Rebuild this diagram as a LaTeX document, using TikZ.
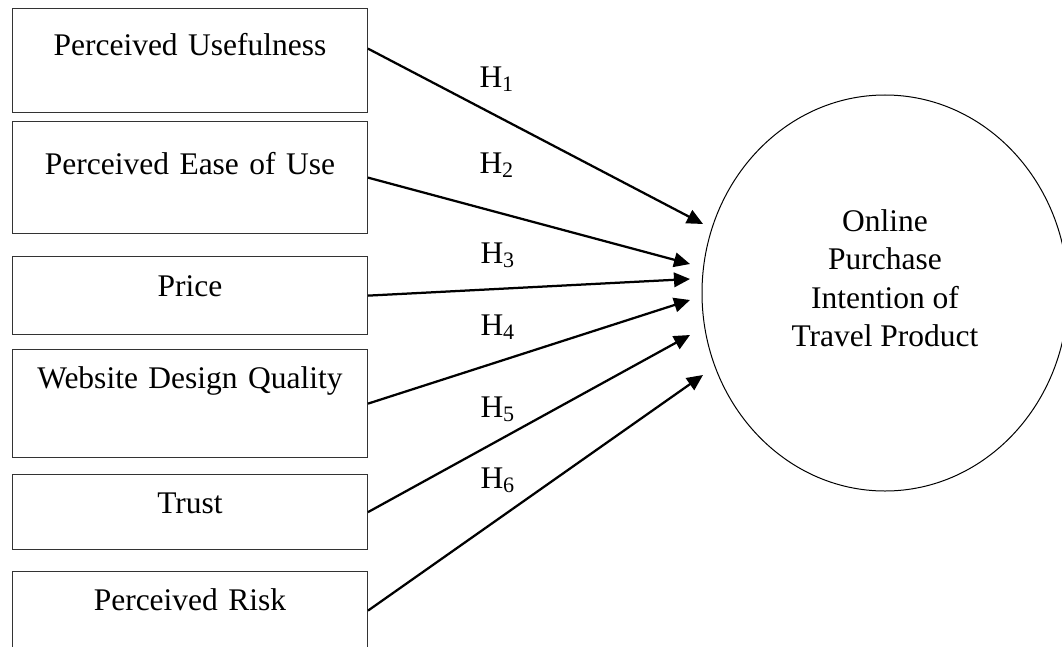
\documentclass[tikz,border=0pt]{standalone}
\usepackage{fontspec}
\setmainfont{Liberation Serif}
\usetikzlibrary{arrows.meta,shapes.geometric}

\begin{document}
\begin{tikzpicture}[x=0.4pt,y=-0.4pt,
  every node/.style={font=\fontsize{12.6}{15.4}\selectfont},
  bx/.style={draw=black!80, line width=0.5pt, inner sep=0pt,
             text width=141.9pt, align=center, anchor=north west},
  ov/.style={draw, ellipse, line width=0.4pt, inner sep=0pt, align=center,
             minimum width=146.4pt, minimum height=158.4pt},
  hl/.style={anchor=base west, inner sep=0pt},
  ar/.style={line width=0.9pt, -{Triangle[length=6.4pt,width=5.8pt]}}]
  \path[use as bounding box, clip] (0,0) rectangle (1062,647);
  % factors
  \node[bx, text height=18.8pt, text depth=22.8pt] (pu) at (12,8)
    {Perceived Usefulness};
  \node[bx, text height=21.2pt, text depth=23.6pt] (peou) at (12,121)
    {Perceived Ease of Use};
  \node[bx, text height=16pt, text depth=15.2pt] (price) at (12,256)
    {Price};
  \node[bx, text height=15.6pt, text depth=27.6pt] (wdq) at (12,349)
    {Website Design Quality};
  \node[bx, text height=15.6pt, text depth=14.4pt] (trust) at (12,474)
    {Trust};
  \node[bx, text height=15.6pt, text depth=15.6pt] (risk) at (12,571)
    {Perceived Risk};
  % outcome
  \node[ov] (opi) at (885,293)
    {Online\\ Purchase\\ Intention of\\ Travel Product\\[-3.4pt]\mbox{}};
  % arrow tips
  \coordinate (t1) at (703,224);
  \coordinate (t2) at (690,264);
  \coordinate (t3) at (690,279);
  \coordinate (t4) at (690,300);
  \coordinate (t5) at (690,335);
  \coordinate (t6) at (703,375);
  \draw[ar] ([yshift=4.8pt]pu.east) -- (t1);
  \draw[ar] (peou.east) -- (t2);
  \draw[ar] (price.east) -- (t3);
  \draw[ar] (wdq.east) -- (t4);
  \draw[ar] (trust.east) -- (t5);
  \draw[ar] (risk.east) -- (t6);
  % hypotheses
  \node[hl] (h1) at (479,87) {H\textsubscript{1}};
  \node[hl] (h2) at (479,173) {H\textsubscript{2}};
  \node[hl] (h3) at (480,263) {H\textsubscript{3}};
  \node[hl] (h4) at (480,335) {H\textsubscript{4}};
  \node[hl] (h5) at (480,417) {H\textsubscript{5}};
  \node[hl] (h6) at (480,488) {H\textsubscript{6}};
\end{tikzpicture}
\end{document}
